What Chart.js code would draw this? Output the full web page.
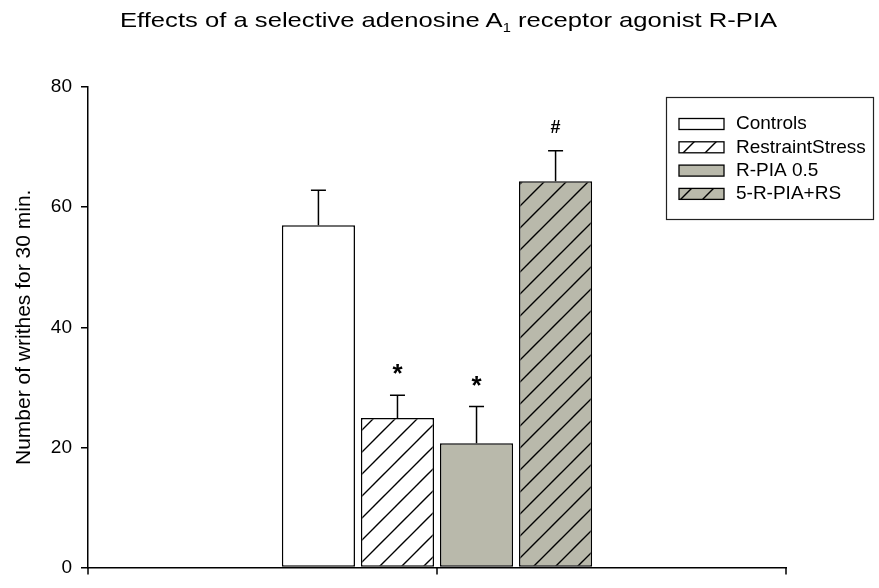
<!DOCTYPE html>
<html>
<head>
<meta charset="utf-8">
<script src="https://cdn.jsdelivr.net/npm/chart.js@4.4.0/dist/chart.umd.min.js"></script>
<style>
  html, body { margin: 0; padding: 0; background: #fff; }
  #wrap { position: relative; width: 879px; height: 588px; }
  #chartTitle {
    position: absolute; left: 120px; top: 8px; white-space: nowrap;
    font-family: "Liberation Sans", Arial, sans-serif; font-size: 21px; color: #000;
    transform: scaleX(1.22); transform-origin: left top;
  }
  #chartTitle sub { font-size: 12px; vertical-align: -5px; line-height: 0; }
</style>
</head>
<body>
<div id="wrap">
  <canvas id="writhesChart" width="879" height="588"></canvas>
  <div id="chartTitle">Effects of a selective adenosine A<sub>1</sub> receptor agonist R-PIA</div>
</div>
<script>
// data
const categories = [""];
const seriesNames = ["Controls", "RestraintStress", "R-PIA 0.5", "5-R-PIA+RS"];
const meanValues = [57.0, 24.9, 20.7, 64.3];
const errorValues = [5.8, 3.8, 6.1, 5.1];
const markers = ["", "*", "*", "#"];
const yTicks = [0, 20, 40, 60, 80];

const FONT = '"Liberation Sans", Arial, sans-serif';
const GREY = "#b9b9ab";

// diagonal hatch pattern "/"
function makeHatch(bg) {
  const s = 22;
  const c = document.createElement("canvas");
  c.width = s;
  c.height = s;
  const g = c.getContext("2d");
  g.fillStyle = bg;
  g.fillRect(0, 0, s, s);
  g.strokeStyle = "#000";
  g.lineWidth = 1.4;
  g.beginPath();
  g.moveTo(-2, s + 2);
  g.lineTo(s + 2, -2);
  g.moveTo(-2, 2);
  g.lineTo(2, -2);
  g.moveTo(s - 2, s + 2);
  g.lineTo(s + 2, s - 2);
  g.stroke();
  return g.createPattern(c, "repeat");
}

const fills = ["#ffffff", makeHatch("#ffffff"), GREY, makeHatch(GREY)];

// error bars (upper only) + significance markers
const errorBarPlugin = {
  id: "errorBars",
  afterDatasetsDraw(chart) {
    const ctx = chart.ctx;
    const y = chart.scales.y;
    ctx.save();
    ctx.strokeStyle = "#000";
    ctx.lineWidth = 1.5;
    chart.data.datasets.forEach((ds, i) => {
      const bar = chart.getDatasetMeta(i).data[0];
      const top = y.getPixelForValue(meanValues[i]);
      const errTop = y.getPixelForValue(meanValues[i] + errorValues[i]);
      ctx.beginPath();
      ctx.moveTo(bar.x, top);
      ctx.lineTo(bar.x, errTop);
      ctx.moveTo(bar.x - 7.5, errTop);
      ctx.lineTo(bar.x + 7.5, errTop);
      ctx.stroke();

      if (markers[i]) {
        ctx.fillStyle = "#000";
        ctx.textAlign = "center";
        ctx.textBaseline = "alphabetic";
        if (markers[i] === "#") {
          ctx.font = "bold 18px " + FONT;
          ctx.fillText(markers[i], bar.x, errTop - 18);
        } else {
          ctx.font = "bold 26px " + FONT;
          ctx.fillText(markers[i], bar.x, errTop - 13);
        }
      }
    });
    ctx.restore();
  },
};

// x ticks at both ends and the category centre
const xTickPlugin = {
  id: "xTicks",
  afterDraw(chart) {
    const ctx = chart.ctx;
    const area = chart.chartArea;
    const mid = chart.scales.x.getPixelForValue(0);
    ctx.save();
    ctx.strokeStyle = "#000";
    ctx.lineWidth = 1.5;
    ctx.beginPath();
    [area.left, mid, area.right].forEach((px) => {
      ctx.moveTo(px, area.bottom);
      ctx.lineTo(px, area.bottom + 7);
    });
    ctx.stroke();
    ctx.restore();
  },
};

// boxed legend inside the plot
const boxLegendPlugin = {
  id: "boxLegend",
  afterDraw(chart) {
    const ctx = chart.ctx;
    ctx.save();
    ctx.strokeStyle = "#222";
    ctx.lineWidth = 1.2;
    ctx.strokeRect(666.5, 97.5, 207, 122);
    ctx.font = "19px " + FONT;
    ctx.textBaseline = "middle";
    ctx.textAlign = "left";
    chart.data.datasets.forEach((ds, i) => {
      const cy = 124 + i * 23.3;
      ctx.fillStyle = ds.backgroundColor;
      ctx.fillRect(679, cy - 5.5, 45, 11);
      ctx.lineWidth = 1.3;
      ctx.strokeStyle = "#000";
      ctx.strokeRect(679, cy - 5.5, 45, 11);
      ctx.fillStyle = "#000";
      ctx.fillText(ds.label, 736, cy);
    });
    ctx.restore();
  },
};

const datasets = seriesNames.map((name, i) => ({
  label: name,
  data: [meanValues[i]],
  backgroundColor: fills[i],
  borderColor: "#000",
  borderWidth: 1.5,
  borderSkipped: false,
  categoryPercentage: 0.453,
  barPercentage: 0.925,
}));

new Chart(document.getElementById("writhesChart"), {
  type: "bar",
  data: { labels: categories, datasets },
  plugins: [errorBarPlugin, xTickPlugin, boxLegendPlugin],
  options: {
    responsive: false,
    animation: false,
    devicePixelRatio: 1,
    layout: { padding: { left: 0, top: 87, right: 93, bottom: 0 } },
    plugins: {
      legend: { display: false },
      tooltip: { enabled: false },
    },
    scales: {
      x: {
        grid: { display: false },
        ticks: { display: false },
        border: { display: true, color: "#000", width: 1.5 },
        afterFit(scale) {
          scale.height = 9;
        },
      },
      y: {
        min: 0,
        max: 80,
        afterBuildTicks(scale) {
          scale.ticks = yTicks.map((v) => ({ value: v }));
        },
        ticks: {
          color: "#000",
          padding: 9,
          font: { family: FONT, size: 19 },
        },
        grid: {
          drawOnChartArea: false,
          tickLength: 7,
          color: "#000",
          lineWidth: 1.5,
        },
        border: { display: true, color: "#000", width: 1.5 },
        title: {
          display: true,
          text: "Number of writhes for 30 min.",
          color: "#000",
          font: { family: FONT, size: 21 },
          padding: { top: 12, bottom: 0 },
        },
        afterFit(scale) {
          scale.width = 88;
        },
      },
    },
  },
});
</script>
</body>
</html>
